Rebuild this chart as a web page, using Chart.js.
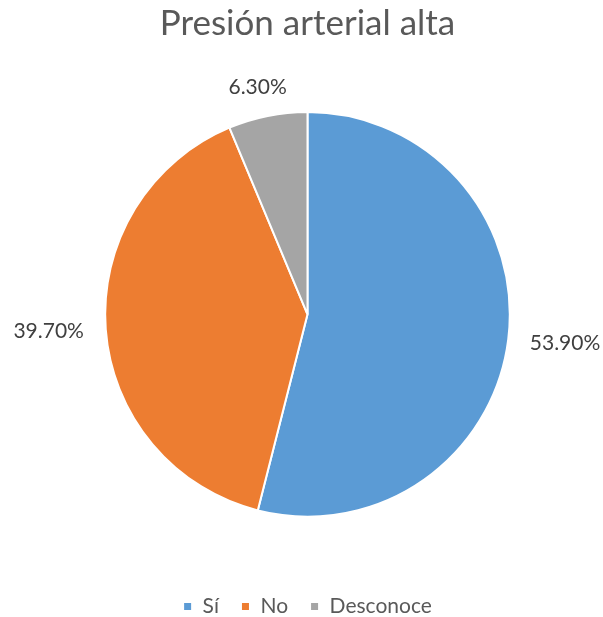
<!DOCTYPE html>
<html lang="es">
<head>
<meta charset="utf-8">
<title>Presión arterial alta</title>
<script src="https://cdn.jsdelivr.net/npm/chart.js@4.4.4/dist/chart.umd.min.js"></script>
<style>
    html, body {
        margin: 0;
        padding: 0;
        background: #ffffff;
    }
    #wrap {
        width: 603px;
        height: 617px;
    }
</style>
</head>
<body>
<div id="wrap"><canvas id="chart"></canvas></div>
<script>
const categories = ["Sí", "No", "Desconoce"];
const percentages = [53.9, 39.7, 6.3];
const sliceColors = ["#5B9BD5", "#ED7D31", "#A5A5A5"];
const chartTitle = "Presión arterial alta";

const fontFamily = "Lato, 'Open Sans', 'Liberation Sans', sans-serif";

function formatPercent(value) {
    return `${value.toFixed(2)}%`;
}

// labels sit just outside the pie, pushed away along each slice's middle angle
const outsideLabels = {
    id: "outsideLabels",
    afterDatasetsDraw(chart) {
        const { ctx } = chart;
        const meta = chart.getDatasetMeta(0);
        ctx.save();
        ctx.font = `21px ${fontFamily}`;
        ctx.fillStyle = "#404040";
        ctx.textAlign = "center";
        ctx.textBaseline = "middle";
        meta.data.forEach((arc, index) => {
            const { x, y, startAngle, endAngle, outerRadius } = arc.getProps(["x", "y", "startAngle", "endAngle", "outerRadius"], true);
            const mid = (startAngle + endAngle) / 2;
            const cos = Math.cos(mid);
            const sin = Math.sin(mid);
            const text = formatPercent(percentages[index]);
            const w = ctx.measureText(text).width;
            const h = 14;
            const px = x + (outerRadius + 22) * cos + cos * w / 2;
            const py = y + (outerRadius + 22) * sin + sin * h / 2;
            ctx.fillText(text, px, py);
        });
        ctx.restore();
    }
};

const chart = new Chart(document.getElementById("chart"), {
    type: "pie",
    data: {
        labels: categories,
        datasets: [
            {
                data: percentages,
                backgroundColor: sliceColors,
                borderColor: "#ffffff",
                borderWidth: 2
            }
        ]
    },
    options: {
        responsive: true,
        maintainAspectRatio: false,
        animation: false,
        layout: {
            padding: { left: 12, right: 0, top: 0, bottom: -10 }
        },
        plugins: {
            title: {
                display: true,
                text: chartTitle,
                color: "#595959",
                font: { family: fontFamily, size: 35, weight: "normal" },
                padding: { top: 3, bottom: 66 }
            },
            legend: {
                display: true,
                position: "bottom",
                title: {
                    display: true,
                    text: "",
                    padding: { top: 42, bottom: 0 }
                },
                labels: {
                    color: "#595959",
                    font: { family: fontFamily, size: 21 },
                    boxWidth: 9,
                    boxHeight: 9,
                    padding: 22
                }
            },
            tooltip: { enabled: false }
        }
    },
    plugins: [outsideLabels]
});
</script>
</body>
</html>
